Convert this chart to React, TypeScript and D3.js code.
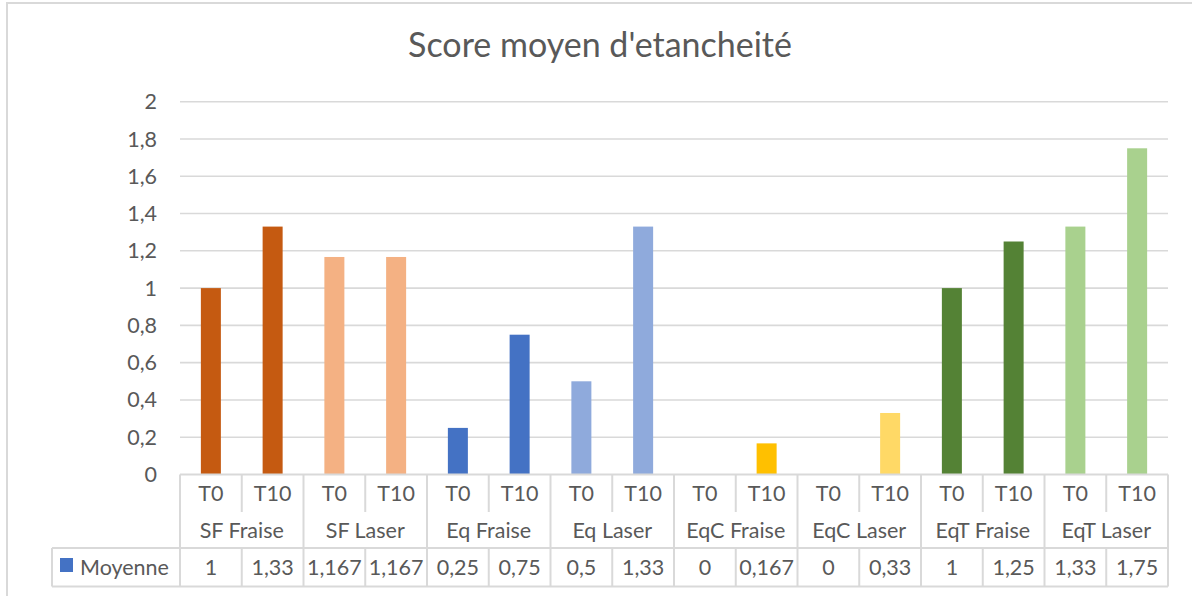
import * as React from "react";
import * as d3 from "d3";

const title = "Score moyen d'etancheité";
const groups = ["SF Fraise", "SF Laser", "Eq Fraise", "Eq Laser", "EqC Fraise", "EqC Laser", "EqT Fraise", "EqT Laser"];
const timepoints = ["T0", "T10"];
const values = [1, 1.33, 1.167, 1.167, 0.25, 0.75, 0.5, 1.33, 0, 0.167, 0, 0.33, 1, 1.25, 1.33, 1.75];
const groupColors = ["#C55A11", "#F4B183", "#4472C4", "#8FAADC", "#FFC000", "#FFD966", "#548235", "#A9D18E"];
const seriesName = "Moyenne";
const seriesColor = "#4472C4";
const yTicks = [0, 0.2, 0.4, 0.6, 0.8, 1, 1.2, 1.4, 1.6, 1.8, 2];

const W = 1192;
const H = 596;
const FONT = "Lato, 'Noto Sans', sans-serif";
const TEXT = "#595959";
const GRID = "#d9d9d9";

const fmt = (v: number) => String(v).replace(".", ",");

export default function App() {
  const cats = values.map((_, i) => i);
  const x = d3.scaleBand<number>().domain(cats).range([180, 1168]).paddingInner(0.676).paddingOuter(0.338);
  const y = d3.scaleLinear().domain([0, 2]).range([474.5, 101.7]);
  const step = x.step();
  const left = 180;
  const right = 1168;
  const row1 = 512;
  const row2 = 548;
  const row3 = 586.5;
  const base = y(0);

  return (
    <svg width={W} height={H} style={{ position: "absolute", left: 0, top: 0, background: "#fff" }} fontFamily={FONT}>
      <rect x={7} y={3} width={W} height={H} fill="#fff" stroke={GRID} strokeWidth={2} />
      <text x={600} y={57} textAnchor="middle" fontSize={34} fill={TEXT}>{title}</text>

      {yTicks.map((t) => (
        <g key={t}>
          {t > 0 && <line x1={left} x2={right} y1={y(t)} y2={y(t)} stroke={GRID} strokeWidth={1.6} />}
          <text x={157} y={y(t)} dy="0.35em" textAnchor="end" fontSize={21.5} fill={TEXT}>{fmt(t)}</text>
        </g>
      ))}

      {values.map((v, i) => (
        <rect key={i} x={x(i)} y={y(v)} width={x.bandwidth()} height={base - y(v)} fill={groupColors[Math.floor(i / 2)]} />
      ))}

      {/* data table */}
      <g stroke={GRID} strokeWidth={2} fill="none">
        <line x1={left} x2={right} y1={base} y2={base} />
        <line x1={52} x2={right} y1={row2} y2={row2} />
        <line x1={52} x2={right} y1={row3} y2={row3} />
        <line x1={52} x2={52} y1={row2} y2={row3} />
        {d3.range(groups.length + 1).map((g) => {
          const gx = left + g * 2 * step;
          return <line key={"g" + g} x1={gx} x2={gx} y1={base} y2={row3} />;
        })}
        {groups.map((_, g) => {
          const mx = left + (g * 2 + 1) * step;
          return (
            <g key={"m" + g}>
              <line x1={mx} x2={mx} y1={base} y2={row1} />
              <line x1={mx} x2={mx} y1={row2} y2={row3} />
            </g>
          );
        })}
      </g>

      <g fontSize={21.5} fill={TEXT} textAnchor="middle">
        {values.map((v, i) => {
          const cx = x(i)! + x.bandwidth() / 2;
          return (
            <g key={i}>
              <text x={cx} y={(base + row1) / 2} dy="0.36em">{timepoints[i % 2]}</text>
              <text x={cx} y={(row2 + row3) / 2} dy="0.36em">{fmt(v)}</text>
            </g>
          );
        })}
        {groups.map((g, gi) => (
          <text key={g} x={left + (gi * 2 + 1) * step} y={(row1 + row2) / 2} dy="0.36em">{g}</text>
        ))}
      </g>

      <rect x={60} y={558} width={13} height={14} fill={seriesColor} />
      <text x={80} y={(row2 + row3) / 2} dy="0.36em" fontSize={21.5} fill={TEXT}>{seriesName}</text>
    </svg>
  );
}
